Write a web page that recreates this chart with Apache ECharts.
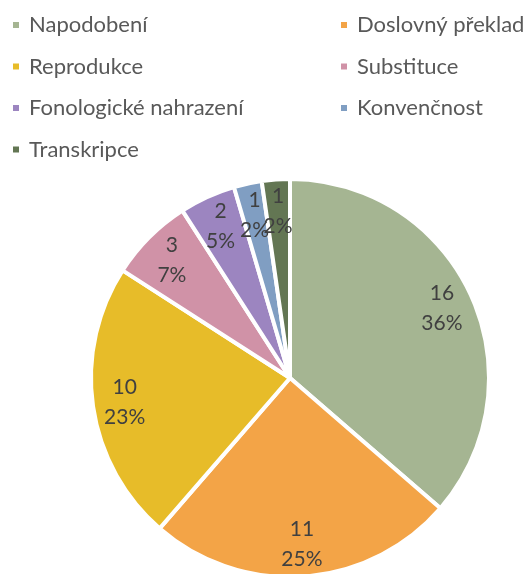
<!DOCTYPE html>
<html><head><meta charset="utf-8">
<script src="https://cdn.jsdelivr.net/npm/echarts@6/dist/echarts.min.js"></script>
<style>html,body{margin:0;padding:0;background:#fff}#c{width:523px;height:574px}</style>
</head><body><div id="c"></div>
<script>
const categories = ['Napodobení','Doslovný překlad','Reprodukce','Substituce','Fonologické nahrazení','Konvenčnost','Transkripce'];
const values = [16, 11, 10, 3, 2, 1, 1];
const colors = ['#A5B592','#F3A447','#E7BC29','#D092A7','#9C85C0','#809EC2','#637653'];
const leftLegend = ['Napodobení','Reprodukce','Fonologické nahrazení','Transkripce'];
const rightLegend = ['Doslovný překlad','Substituce','Konvenčnost'];

const data = categories.map((n,i)=>({name:n,value:values[i],itemStyle:{color:colors[i]}}));
const font = 'Lato, "Open Sans", sans-serif';
const chart = echarts.init(document.getElementById('c'));
const legendBase = {
  orient:'vertical', icon:'rect', itemWidth:8, itemHeight:8, itemGap:19.5, padding:0,
  textStyle:{fontFamily:font, fontSize:22, color:'#595959', lineHeight:20, padding:[0,0,0,4]},
  selectedMode:false
};
chart.setOption({
  animation:false,
  legend:[
    Object.assign({}, legendBase, {left:11, top:14, data:leftLegend}),
    Object.assign({}, legendBase, {left:339, top:14, data:rightLegend})
  ],
  series:[
    {type:'pie', center:[290,378], radius:[0,199], startAngle:90, clockwise:true,
     data:data, label:{show:false}, labelLine:{show:false},
     itemStyle:{borderColor:'#fff', borderWidth:4}, emphasis:{disabled:true}},
    {type:'pie', center:[290,378], radius:[128,200], startAngle:90, clockwise:true, silent:true,
     data:categories.map((n,i)=>({name:n,value:values[i],itemStyle:{color:'transparent'}})),
     legendHoverLink:false, avoidLabelOverlap:false,
     labelLayout:{hideOverlap:false},
     label:{show:true, position:'inside', fontFamily:font, fontSize:21, color:'#404040', lineHeight:30,
       formatter:p=>p.value+'\n'+Math.round(p.percent)+'%'},
     labelLine:{show:false}, itemStyle:{borderWidth:0}, emphasis:{disabled:true}}
  ]
});
</script></body></html>
